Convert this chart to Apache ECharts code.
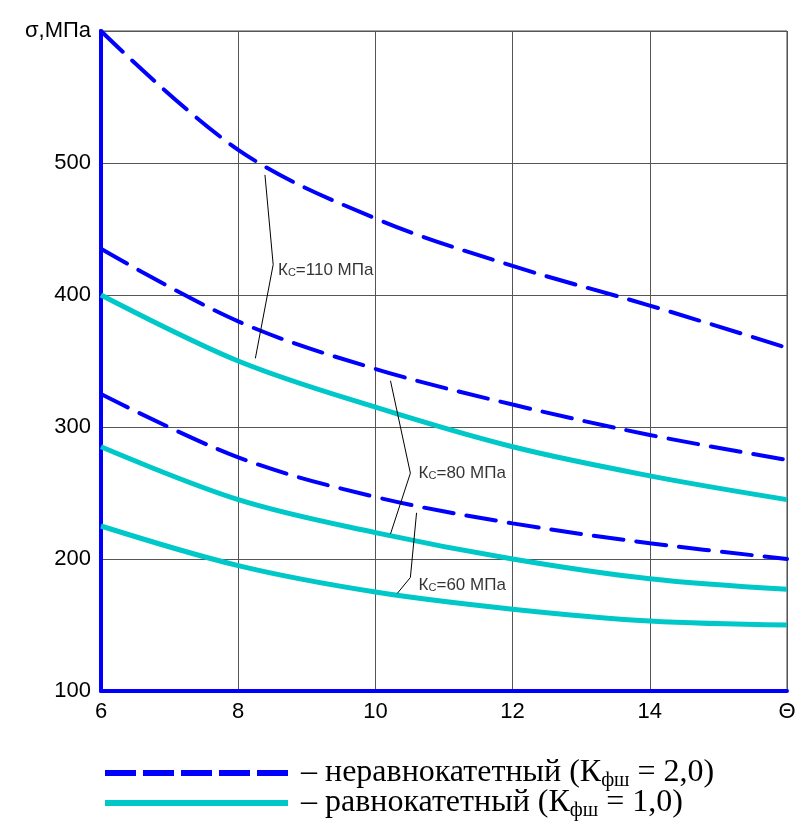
<!DOCTYPE html>
<html>
<head>
<meta charset="utf-8">
<script src="https://cdn.jsdelivr.net/npm/echarts@6/dist/echarts.min.js"></script>
<style>
  html, body { margin: 0; padding: 0; background: #fff; }
  #chart { width: 809px; height: 825px; }
</style>
</head>
<body>
<div id="chart"></div>
<script>
// x values (катет), y values in МПа
var xs = [6, 8, 10, 12, 14, 16];

// неравнокатетный (dashed)
var dash110 = [600, 510, 458, 422, 392, 360];
var dash80 = [435, 380, 344, 317, 294, 275];
var dash60 = [325, 277, 247, 227, 212, 200];

// равнокатетный (solid)
var solid110 = [400, 350, 315, 285, 263, 245];
var solid80 = [285, 245, 220, 200, 185, 177];
var solid60 = [225, 195, 175, 162, 153, 150];

// leader lines and their labels
var lead110 = [[8.39, 491], [8.51, 423], [8.25, 352]];
var lead80 = [[10.22, 335], [10.51, 265], [10.22, 219]];
var lead60 = [[10.60, 235], [10.51, 186], [10.32, 174]];
var notes = [[8.58, 419, '110'], [10.63, 265, '80'], [10.63, 180, '60']];

var yTicks = { 600: 'σ,МПа' };
var xTicks = { 16: 'Θ' };

var DASH_NAME = 'неравнокатетный';
var SOLID_NAME = 'равнокатетный';

function pairs(vals) {
    return xs.map(function (x, i) { return [x, vals[i]]; });
}

function dashed(vals) {
    return {
        name: DASH_NAME,
        type: 'line',
        smooth: 0.35,
        symbol: 'none',
        lineStyle: { color: '#0000ff', width: 4, type: [30, 13], cap: 'round' },
        itemStyle: { color: '#0000ff' },
        data: pairs(vals),
        z: 3
    };
}

function solid(vals) {
    return {
        name: SOLID_NAME,
        type: 'line',
        smooth: 0.35,
        symbol: 'none',
        lineStyle: { color: '#00c8c8', width: 5 },
        itemStyle: { color: '#00c8c8' },
        data: pairs(vals),
        z: 3
    };
}

function leader(pts) {
    return {
        type: 'line',
        symbol: 'none',
        silent: true,
        lineStyle: { color: '#000', width: 1 },
        data: pts,
        z: 4
    };
}

// one legend per row
function legendRow(name, top, icon, color, text) {
    return {
        orient: 'horizontal',
        left: 100,
        top: top,
        itemWidth: 183,
        itemHeight: 6,
        symbolKeepAspect: false,
        selectedMode: false,
        data: [{ name: name, icon: icon, itemStyle: { color: color } }],
        formatter: function () { return text; },
        textStyle: {
            fontFamily: 'Liberation Serif',
            fontSize: 32,
            lineHeight: 32,
            color: '#000',
            padding: [0, 0, 0, 8],
            rich: {
                s: { fontFamily: 'Liberation Serif', fontSize: 20, padding: [16, 0, 0, 0], color: '#000' }
            }
        }
    };
}

var dashIcon = 'path://M0,0h31v6h-31z M38,0h31v6h-31z M76,0h31v6h-31z M114,0h31v6h-31z M152,0h31v6h-31z';
var solidIcon = 'path://M0,0h183v6h-183z';

var myChart = echarts.init(document.getElementById('chart'));

var option = {
    animation: false,
    grid: {
        left: 101,
        top: 31,
        right: 22,
        bottom: 134,
        show: true,
        borderColor: '#444',
        borderWidth: 1
    },
    legend: [
        legendRow(DASH_NAME, 752, dashIcon, '#0000ff', '– неравнокатетный (К{s|фш} = 2,0)'),
        legendRow(SOLID_NAME, 782, solidIcon, '#00c8c8', '– равнокатетный (К{s|фш} = 1,0)')
    ],
    xAxis: {
        type: 'value',
        min: 6,
        max: 16,
        interval: 2,
        axisLine: { lineStyle: { color: '#0000ff', width: 4 } },
        axisTick: { show: false },
        axisLabel: {
            margin: 10,
            fontFamily: 'Liberation Sans',
            fontSize: 22,
            color: '#000',
            formatter: function (v) { return xTicks[v] || String(v); }
        },
        splitLine: { lineStyle: { color: '#555', width: 1 } }
    },
    yAxis: {
        type: 'value',
        min: 100,
        max: 600,
        interval: 100,
        axisLine: { show: true, lineStyle: { color: '#0000ff', width: 4 } },
        axisTick: { show: false },
        axisLabel: {
            margin: 10,
            fontFamily: 'Liberation Sans',
            fontSize: 22,
            color: '#000',
            formatter: function (v) { return yTicks[v] || String(v); }
        },
        splitLine: { lineStyle: { color: '#555', width: 1 } }
    },
    series: [
        dashed(dash110),
        dashed(dash80),
        dashed(dash60),
        solid(solid110),
        solid(solid80),
        solid(solid60),
        leader(lead110),
        leader(lead80),
        leader(lead60),
        {
            type: 'scatter',
            symbolSize: 0,
            silent: true,
            data: notes,
            label: {
                show: true,
                position: 'right',
                distance: 0,
                formatter: function (p) { return 'К{s|С}=' + p.value[2] + ' МПа'; },
                fontFamily: 'Liberation Sans',
                fontSize: 17,
                color: '#000',
                rich: {
                    s: { fontFamily: 'Liberation Sans', fontSize: 11, padding: [6, 0, 0, 0], color: '#000' }
                }
            },
            z: 5
        }
    ]
};

myChart.setOption(option);
</script>
</body>
</html>
